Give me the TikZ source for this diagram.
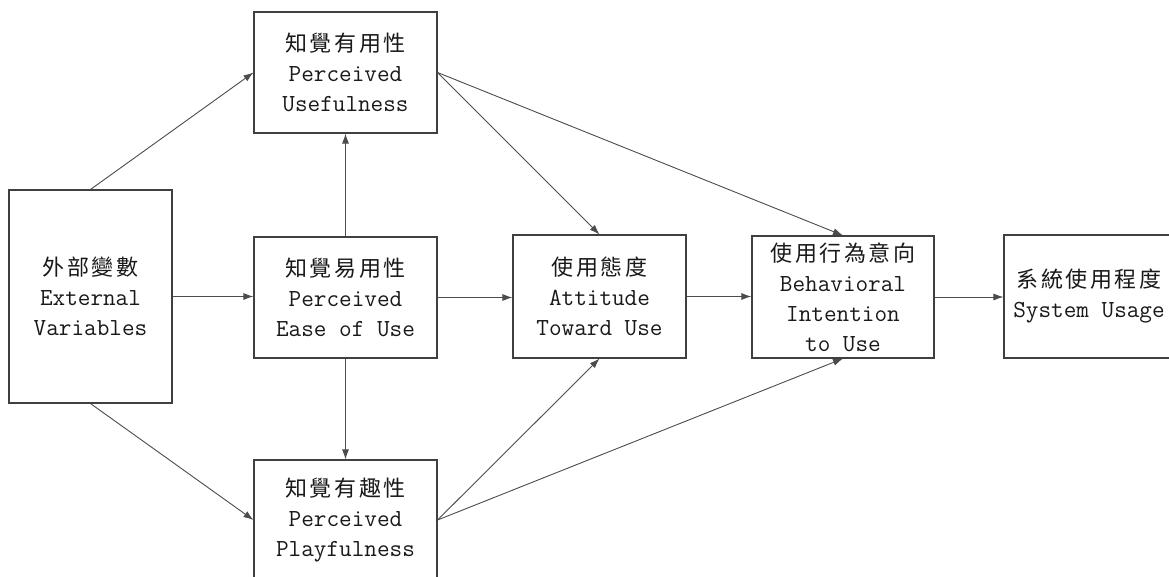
\documentclass[tikz,border=0pt]{standalone}
\usepackage{fontspec}
\usetikzlibrary{arrows.meta}
\newfontfamily\cjk[LetterSpace=12]{Noto Sans CJK TC}
\newcommand{\zh}[1]{{\cjk\fontsize{22}{30}\selectfont #1}}
\begin{document}
\begin{tikzpicture}[x=1pt,y=-1pt,
  box/.style={draw=black!75, line width=1.1pt, align=center, inner sep=0pt,
    font=\ttfamily\fontsize{24.5}{30}\selectfont, text=black!90},
  conn/.style={draw=black!70, line width=0.9pt, -{Latex[length=10pt,width=7pt]}}]
\clip (0,0) rectangle (1169,576);
\fill[white] (0,0) rectangle (1169,576);
\node[box, minimum width=163pt, minimum height=213pt] (ext) at (90.5,296.5)
  {\zh{外部變數}\\External\\Variables};
\node[box, minimum width=183pt, minimum height=121pt] (pu) at (345.5,72.5)
  {\zh{知覺有用性}\\Perceived\\Usefulness};
\node[box, minimum width=183pt, minimum height=121pt] (peou) at (345.5,297.5)
  {\zh{知覺易用性}\\Perceived\\Ease of Use};
\node[box, minimum width=183pt, minimum height=120pt] (pp) at (345.5,520)
  {\zh{知覺有趣性}\\Perceived\\Playfulness};
\node[box, minimum width=173pt, minimum height=123pt] (att) at (599.5,296.5)
  {\zh{使用態度}\\Attitude\\Toward Use};
\node[box, minimum width=182pt, minimum height=122pt] (bi) at (843,297)
  {\zh{使用行為意向}\\Behavioral\\Intention\\to Use};
\node[box, minimum width=170pt, minimum height=123pt] (su) at (1089,296.5)
  {\zh{系統使用程度}\\System Usage};
\draw[conn] (ext.north) -- (pu.west);
\draw[conn] (ext.south) -- (pp.west);
\draw[conn] (ext.east) -- (ext.east -| peou.west);
\draw[conn] (peou.north) -- (pu.south);
\draw[conn] (peou.south) -- (pp.north);
\draw[conn] (peou.east) -- (peou.east -| att.west);
\draw[conn] (att.east) -- (att.east -| bi.west);
\draw[conn] (bi.east) -- (bi.east -| su.west);
\draw[conn] (pu.east) -- (att.north);
\draw[conn] (pu.east) -- (bi.north);
\draw[conn] (pp.east) -- (att.south);
\draw[conn] (pp.east) -- (bi.south);
\end{tikzpicture}
\end{document}
